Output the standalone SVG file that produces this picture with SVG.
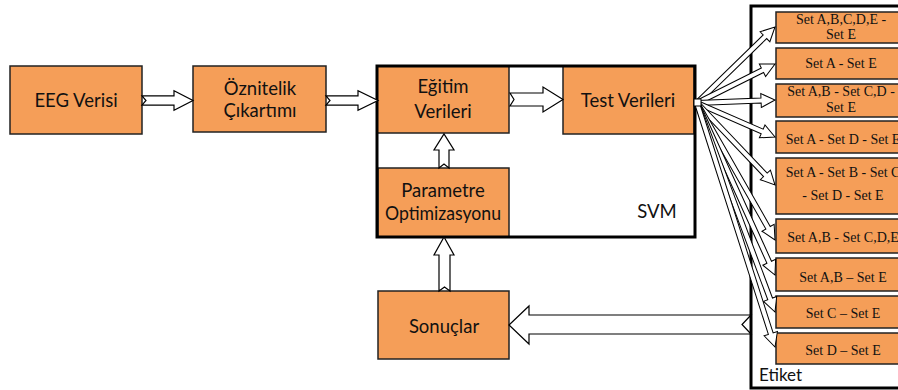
<svg xmlns="http://www.w3.org/2000/svg" width="898" height="390" viewBox="0 0 898 390">
  <style>
    .box { fill: #F59E58; stroke: #222; stroke-width: 1.5; }
    .frame { fill: none; stroke: #000; stroke-width: 3; }
    .lbl { font-family: Lato, "Liberation Sans", sans-serif; font-size: 18.5px; fill: #111; text-anchor: middle; }
    .set { font-family: "Liberation Serif", "Times New Roman", serif; font-size: 14px; fill: #111; text-anchor: middle; }
    .arrow { fill: #fff; stroke: #000; stroke-width: 1.2; stroke-linejoin: miter; }
    .fan { fill: #fff; stroke: #000; stroke-width: 1; }
  </style>

  <rect width="898" height="390" fill="#fff"/>

  <!-- pipeline nodes -->
  <g id="eeg">
    <rect class="box" x="10" y="66" width="132" height="68"/>
    <text class="lbl" x="76" y="107">EEG Verisi</text>
  </g>
  <g id="oznitelik">
    <rect class="box" x="193" y="66" width="133" height="66"/>
    <text class="lbl" x="260" y="95">Öznitelik</text>
    <text class="lbl" x="260" y="117">Çıkartımı</text>
  </g>
  <g id="egitim">
    <rect class="box" x="377" y="66" width="132" height="67"/>
    <text class="lbl" x="443" y="93">Eğitim</text>
    <text class="lbl" x="443" y="118">Verileri</text>
  </g>
  <g id="test">
    <rect class="box" x="563" y="66" width="131" height="68"/>
    <text class="lbl" x="628" y="107">Test Verileri</text>
  </g>
  <g id="parametre">
    <rect class="box" x="378" y="168" width="131" height="69"/>
    <text class="lbl" x="443" y="197">Parametre</text>
    <text class="lbl" x="443" y="220" textLength="116" lengthAdjust="spacingAndGlyphs">Optimizasyonu</text>
  </g>
  <g id="svm">
    <rect class="frame" x="377" y="66" width="318" height="171"/>
    <text class="lbl" x="657" y="218">SVM</text>
  </g>
  <g id="sonuclar">
    <rect class="box" x="378" y="291" width="131" height="68"/>
    <text class="lbl" x="444" y="333">Sonuçlar</text>
  </g>

  <!-- label panel -->
  <g id="etiket">
    <rect class="frame" x="751" y="6" width="200" height="382"/>
    <text class="lbl" x="759" y="381" style="text-anchor:start;font-size:17px">Etiket</text>
  </g>
  <g id="set1">
    <rect class="box" x="776" y="12" width="130" height="31"/>
    <text class="set" x="841" y="24">Set A,B,C,D,E -</text>
    <text class="set" x="841" y="39">Set E</text>
  </g>
  <g id="set2">
    <rect class="box" x="776" y="48" width="130" height="31"/>
    <text class="set" x="841" y="68">Set A - Set E</text>
  </g>
  <g id="set3">
    <rect class="box" x="776" y="84" width="130" height="33"/>
    <text class="set" x="841" y="96">Set A,B - Set C,D -</text>
    <text class="set" x="841" y="112">Set E</text>
  </g>
  <g id="set4">
    <rect class="box" x="776" y="121" width="130" height="32"/>
    <text class="set" x="843" y="144">Set A - Set D - Set E</text>
  </g>
  <g id="set5">
    <rect class="box" x="776" y="158" width="130" height="56"/>
    <text class="set" x="843" y="177">Set A - Set B - Set C</text>
    <text class="set" x="843" y="200">- Set D - Set E</text>
  </g>
  <g id="set6">
    <rect class="box" x="776" y="219" width="130" height="34"/>
    <text class="set" x="843" y="242">Set A,B - Set C,D,E</text>
  </g>
  <g id="set7">
    <rect class="box" x="776" y="258" width="130" height="33"/>
    <text class="set" x="843" y="282">Set A,B – Set E</text>
  </g>
  <g id="set8">
    <rect class="box" x="776" y="296" width="130" height="32"/>
    <text class="set" x="843" y="318">Set C – Set E</text>
  </g>
  <g id="set9">
    <rect class="box" x="776" y="333" width="130" height="31"/>
    <text class="set" x="843" y="355">Set D – Set E</text>
  </g>

  <!-- connectors: notched block arrows -->
  <g id="connectors">
    <path class="arrow" d="M142,95.8 H174 V90.8 L193,100.5 L174,110.2 V105.2 H142 L146,100.5 Z"/>
    <path class="arrow" d="M326,95.8 H358 V90.8 L378,100.5 L358,110.2 V105.2 H326 L330,100.5 Z"/>
    <path class="arrow" d="M510,93 H543 V87 L563,99.5 L543,112 V106 H510 L514,99.5 Z"/>
    <path class="arrow" d="M439,168 V150 H434 L444,134 L454,150 H449 V168 L444,164 Z"/>
    <path class="arrow" d="M439,291 V255 H434 L444,237 L454,255 H450 V291 L444.5,287 Z"/>
    <path class="arrow" d="M751,315 H529 V306 L509,325 L529,344 V334 H751 L742,324.5 Z"/>

    <!-- fan from Test Verileri to each label set -->
    <g transform="translate(697,103)">
      <path class="fan" transform="rotate(-44.26)" d="M0,-2.5 H94.9 V-7 L108.9,0 L94.9,7 V2.5 H0 Z"/>
      <path class="fan" transform="rotate(-26.57)" d="M0,-2.5 H73.2 V-7 L87.2,0 L73.2,7 V2.5 H0 Z"/>
      <path class="fan" transform="rotate(-2.2)" d="M0,-2.5 H64.1 V-7 L78.1,0 L64.1,7 V2.5 H0 Z"/>
      <path class="fan" transform="rotate(23.55)" d="M0,-2.5 H71.1 V-7 L85.1,0 L71.1,7 V2.5 H0 Z"/>
      <path class="fan" transform="rotate(46.43)" d="M0,-2.5 H99.2 V-7 L113.2,0 L99.2,7 V2.5 H0 Z"/>
      <path class="fan" transform="rotate(60.34)" d="M0,-2.5 H143.6 V-7 L157.6,0 L143.6,7 V2.5 H0 Z"/>
      <path class="fan" transform="rotate(65.61)" d="M0,-2.5 H174.9 V-7 L188.9,0 L174.9,7 V2.5 H0 Z"/>
      <path class="fan" transform="rotate(69.53)" d="M0,-2.5 H209.1 V-7 L223.1,0 L209.1,7 V2.5 H0 Z"/>
      <path class="fan" transform="rotate(72.27)" d="M0,-2.5 H242.2 V-7 L256.2,0 L242.2,7 V2.5 H0 Z"/>
      <rect x="-3" y="-4" width="7" height="7" fill="#fff" stroke="#000" stroke-width="1"/>
    </g>
  </g>
</svg>
